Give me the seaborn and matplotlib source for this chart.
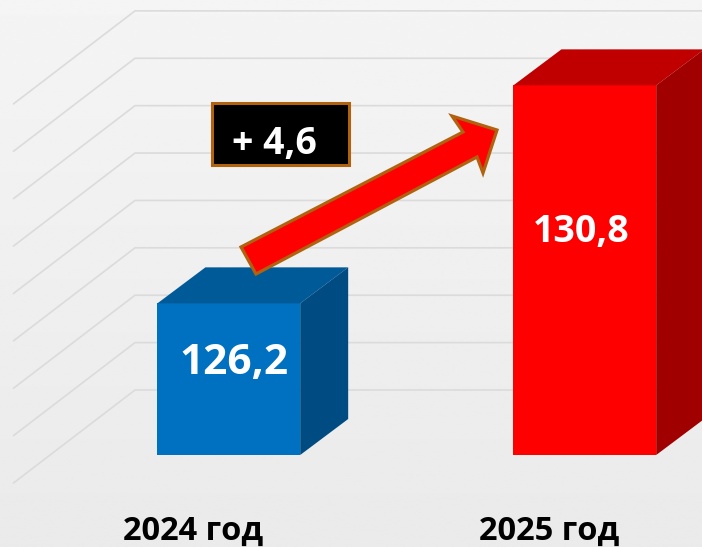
import numpy as np
import pandas as pd
import matplotlib
matplotlib.use("Agg")
import matplotlib.pyplot as plt
from matplotlib.patches import Polygon, Rectangle
from matplotlib.transforms import ScaledTranslation
import seaborn as sns

categories = ["2024 год", "2025 год"]
values = [126.2, 130.8]
value_labels = ["126,2", "130,8"]
grid_values = [123, 124, 125, 126, 127, 128, 129, 130, 131]
delta_label = "+ 4,6"

front_colors = ["#0070C0", "#FF0000"]
top_colors = ["#005A98", "#C00000"]
side_colors = ["#004B82", "#A00000"]

W, H = 702, 547
BASE_PX = 455
PX_PER_UNIT = 47.39
GRID_BACK_DY = 65
GRID_FRONT_DY = -28
sns.set_theme(style="white")
FONT = ["Open Sans", "DejaVu Sans"]
plt.rcParams["font.family"] = FONT

fig = plt.figure(figsize=(W / 100, H / 100), dpi=100)

# background gradient
bg = fig.add_axes([0, 0, 1, 1], zorder=0)
bg.imshow(np.linspace(0.958, 0.918, 256).reshape(-1, 1), cmap="gray", vmin=0, vmax=1,
          aspect="auto", interpolation="bilinear")
bg.axis("off")

ax = fig.add_axes([0, (H - BASE_PX) / H, 1, BASE_PX / H], zorder=1)
ax.patch.set_alpha(0)

df = pd.DataFrame({"cat": categories, "val": values})
sns.barplot(data=df, x="cat", y="val", hue="cat", order=categories, hue_order=categories,
            palette=front_colors, saturation=1, width=0.401, legend=False, ax=ax, zorder=3,
            linewidth=0)

SPACING = 356
ax.set_xlim(-228.8 / SPACING, (W - 228.8) / SPACING)
ax.set_ylim(grid_values[0], grid_values[0] + BASE_PX / PX_PER_UNIT)
ax.set_xlabel("")
ax.set_ylabel("")
ax.set_yticks([])
for s in ax.spines.values():
    s.set_visible(False)
ax.tick_params(axis="x", length=0, pad=55, labelsize=23.5)
label_shift = ScaledTranslation(-36 / 100, 0, fig.dpi_scale_trans)
for t in ax.get_xticklabels():
    t.set_fontweight("bold")
    t.set_color("black")
    t.set_family(FONT)
    t.set_va("center")
    t.set_transform(t.get_transform() + label_shift)


def px_data(xp, yp):
    """Top-left pixel position to data coordinates."""
    return ax.transData.inverted().transform((xp, H - yp))


fig.canvas.draw()

# back-wall and side-wall grid lines
for v in grid_values:
    yb = BASE_PX - (v - grid_values[0]) * PX_PER_UNIT
    xs, ys = zip(px_data(13.5, yb - GRID_FRONT_DY), px_data(135, yb - GRID_BACK_DY),
                 px_data(W + 2, yb - GRID_BACK_DY))
    ax.plot(xs, ys, color="#DBDBDB", lw=1.2, clip_on=False, zorder=1, solid_joinstyle="miter")

# 3-D faces of the bars, derived from each bar's own rectangle
DX, DY = 48, 36
ddx = DX / SPACING
ddy = DY / PX_PER_UNIT
for bar, tc, sc in zip(ax.patches, top_colors, side_colors):
    x0, x1 = bar.get_x(), bar.get_x() + bar.get_width()
    top = bar.get_height()
    low = grid_values[0]
    ax.add_patch(Polygon([(x0, top), (x1, top), (x1 + ddx, top + ddy), (x0 + ddx, top + ddy)],
                         closed=True, fc=tc, ec="none", zorder=3, clip_on=False))
    ax.add_patch(Polygon([(x1, low), (x1, top), (x1 + ddx, top + ddy), (x1 + ddx, low + ddy)],
                         closed=True, fc=sc, ec="none", zorder=3, clip_on=False))

# value labels
label_px = [(234, 363), (581, 232)]
label_sizes = [30.5, 27]
for lab, (xp, yp), fs in zip(value_labels, label_px, label_sizes):
    x, y = px_data(xp, yp)
    ax.text(x, y, lab, color="white", fontsize=fs, fontweight="bold",
            ha="center", va="center", zorder=6, family=FONT)

# arrow annotation
BORDER = "#B0620F"
arrow_px = [(241, 247), (463, 132), (452, 116), (497, 130), (483, 173), (477, 157), (256, 274)]
ax.add_patch(Polygon([px_data(*p) for p in arrow_px], closed=True, fc="#FF0000", ec=BORDER,
                     lw=2.3, zorder=5, clip_on=False, joinstyle="miter"))

# delta box
bx0, by1 = px_data(212, 165)
bx1, by0 = px_data(349, 103)
ax.add_patch(Rectangle((bx0, by1), bx1 - bx0, by0 - by1, fc="black", ec=BORDER, lw=2.2, zorder=5))
tx, ty = px_data(274, 144)
ax.text(tx, ty, delta_label, color="white", fontsize=27, fontweight="bold",
        ha="center", va="center", zorder=6, family=FONT)

fig.savefig("out.png", dpi=100)
